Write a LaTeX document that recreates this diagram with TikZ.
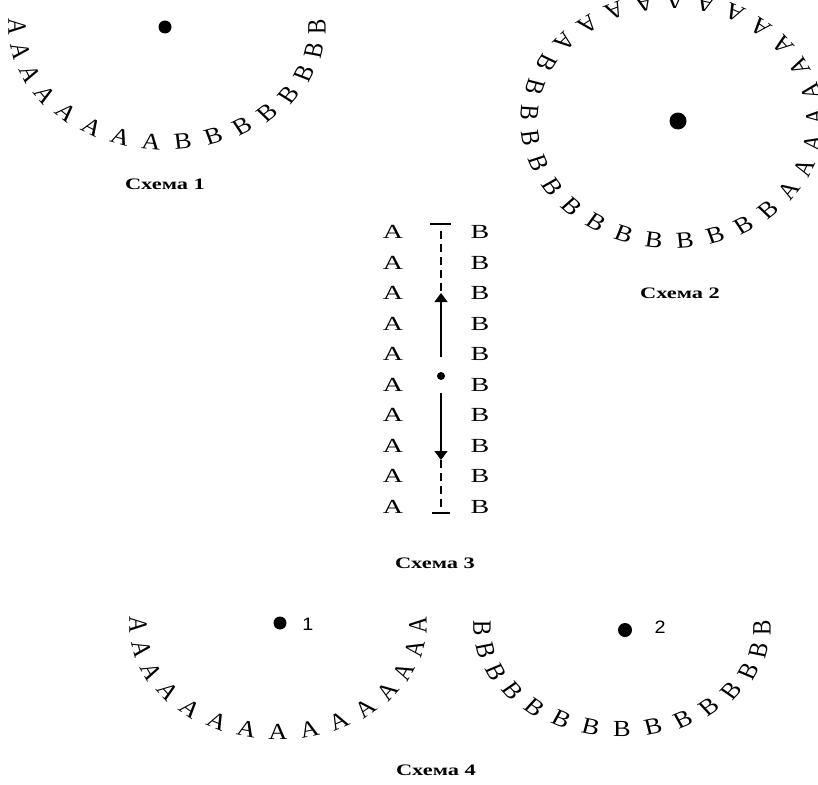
\documentclass[tikz,border=0pt]{standalone}
\usepackage{fontspec}
\setmainfont{Liberation Serif}
\newfontfamily\digitfont{Liberation Sans}
\usetikzlibrary{arrows.meta}

\begin{document}
\begin{tikzpicture}[x=1pt, y=1pt, line width=1.1pt,
  >={Triangle[length=9pt, width=13pt]},
  arcletter/.style={inner sep=0pt, xscale=1.15, font=\fontsize{23}{23}\selectfont},
  rowletter/.style={inner sep=0pt, xscale=1.4, font=\fontsize{20}{20}\selectfont},
  caption/.style={inner sep=0pt, xscale=1.4, font=\fontsize{16}{16}\selectfont\bfseries},
  pivot/.style={circle, fill=black, inner sep=0pt, minimum size=#1},
  number/.style={inner sep=0pt, xscale=1.1, font=\fontsize{18}{18}\selectfont\digitfont}]

\useasboundingbox (0,0) rectangle (818,-784);

% =====================================================
% Schema 1: half ring, A on the left, B on the right
% =====================================================
\begin{scope}[shift={(167,-27)}]
  \node[pivot=13pt] (c1) at (-2,0) {};
  \foreach \k in {0,...,15}{
    \pgfmathsetmacro\a{180+12*\k}
    \ifnum\k<8 \def\ch{A}\else\def\ch{B}\fi
    \node[arcletter, rotate=\a+90] (s1-\k) at (\a:150 and 115) {\ch};
  }
\end{scope}
\node[caption] (cap1) at (165,-184) {Схема 1};

% =====================================================
% Schema 2: full ring, 14 B and 15 A
% =====================================================
\begin{scope}[shift={(672,-121)}]
  \node[pivot=17pt] (c2) at (6,0) {};
  \foreach \k in {0,...,28}{
    \pgfmathsetmacro\a{151+\k*360/29}
    \ifnum\k<14 \def\ch{B}\else\def\ch{A}\fi
    \node[arcletter, rotate=\a+90] (s2-\k) at (\a:143 and 120) {\ch};
  }
\end{scope}
\node[caption] (cap2) at (680,-293) {Схема 2};

% =====================================================
% Schema 3: two columns and the axis between them
% =====================================================
\foreach \i in {0,...,9}{
  \node[rowletter] (a\i) at (393,{-232-30.5*\i}) {A};
  \node[rowletter] (b\i) at (480,{-232-30.5*\i}) {B};
}

\coordinate (topbar) at (441,-224);
\coordinate (uptip) at (441,-293);
\node[pivot=8pt] (mid) at (441,-376) {};
\coordinate (downtip) at (441,-460);
\coordinate (botbar) at (441,-513);

\draw ([xshift=-11pt]topbar) -- ([xshift=10pt]topbar);
\draw ([xshift=-9pt]botbar) -- ([xshift=9pt]botbar);
\draw[dash pattern=on 8pt off 5pt] ([yshift=-7pt]topbar) -- (uptip);
\draw[dash pattern=on 8pt off 5pt] (downtip) -- (botbar);
\draw[->, shorten <=14pt] (mid) -- (uptip);
\draw[->, shorten <=12pt] (mid) -- (downtip);

\node[caption] (cap3) at (435,-563) {Схема 3};

% =====================================================
% Schema 4: two half rings, all A and all B
% =====================================================
\begin{scope}[shift={(278,-625)}]
  \node[pivot=13pt] (c41) at (2,2) {};
  \foreach \k in {0,...,14}{
    \pgfmathsetmacro\a{180+\k*180/14}
    \node[arcletter, rotate=\a+90] (s41-\k) at (\a:140 and 107) {A};
  }
\end{scope}
\node[number] (n1) at (308,-624) {1};

\begin{scope}[shift={(622,-628)}]
  \node[pivot=14pt] (c42) at (3,-2) {};
  \foreach \k in {0,...,14}{
    \pgfmathsetmacro\a{180+\k*180/14}
    \node[arcletter, rotate=\a+90] (s42-\k) at (\a:140 and 101) {B};
  }
\end{scope}
\node[number] (n2) at (660,-627) {2};

\node[caption] (cap4) at (436,-770) {Схема 4};

\end{tikzpicture}
\end{document}
